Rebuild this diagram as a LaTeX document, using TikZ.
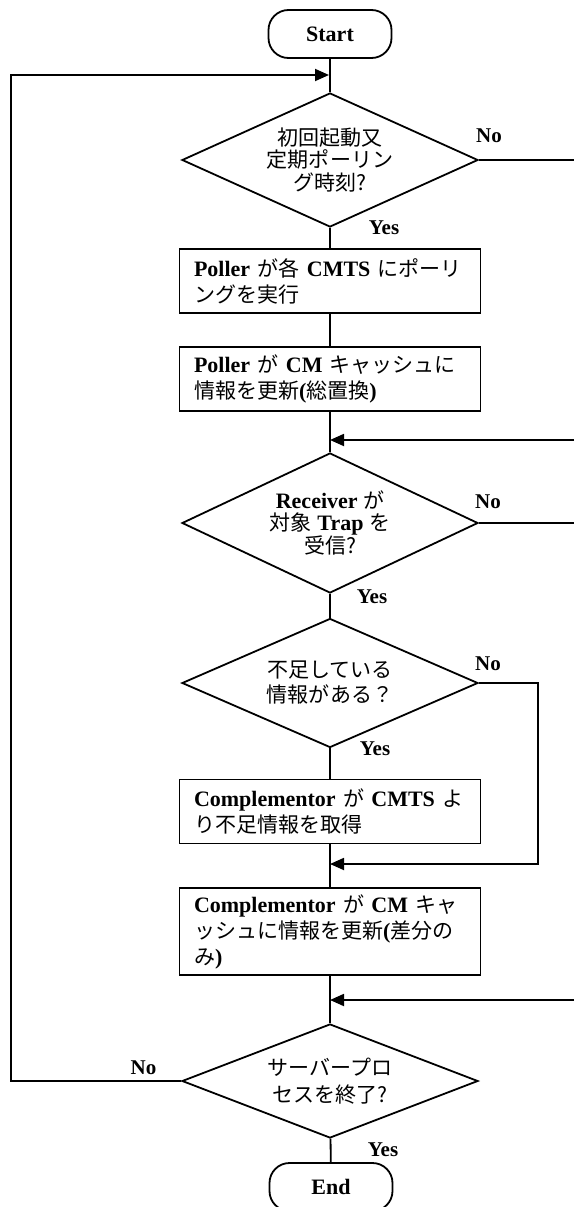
\documentclass[tikz,border=0pt]{standalone}
\usepackage{fontspec}
\setmainfont{Liberation Serif}
\newfontfamily\jpfont[Scale=0.955]{Noto Sans CJK JP}
\usetikzlibrary{shapes.geometric,arrows.meta}
\newcommand\J[1]{{\jpfont\mdseries #1}}
\tikzset{
  conn/.style={line width=1.8pt},
  arr/.style={line width=1.8pt,-{Triangle[length=14pt,width=12pt]}},
  proc/.style={draw,line width=1.8pt,rectangle,text width=272pt,align=left,
    inner xsep=14.5pt,inner ysep=0pt,minimum height=64pt,
    font=\fontsize{22}{26}\selectfont\bfseries},
  decision/.style={draw,line width=1.8pt,diamond,aspect=2.2,inner sep=0pt,
    minimum width=296pt,minimum height=134pt,align=center,
    font=\fontsize{22}{22.5}\selectfont\bfseries},
  term/.style={draw,line width=1.8pt,rounded corners=20pt,minimum width=123pt,
    minimum height=48pt,font=\fontsize{22}{26}\selectfont\bfseries},
  lbl/.style={font=\fontsize{21}{24}\selectfont\bfseries,inner sep=0pt},
}
\begin{document}
\begin{tikzpicture}[x=1pt,y=-1pt]
\useasboundingbox (0,0) rectangle (574,1207);
% nodes
\node[term] (start) at (330,34) {Start};
\node[decision] (d1) at (330,160) {\J{初回起動又}\\\J{定期ポーリン}\\\J{グ時刻?}};
\node[proc] (b1) at (330,281) {Poller \J{が各} CMTS \J{にポーリ}\\\J{ングを実行}};
\node[proc] (b2) at (330,379) {Poller \J{が} CM \J{キャッシュに}\\\J{情報を更新}(\J{総置換})};
\node[decision,minimum height=140pt,font=\fontsize{22}{22}\selectfont\bfseries] (d2) at (330,523) {Receiver \J{が}\\\J{対象} Trap \J{を}\\\J{受信?}};
\node[decision,minimum height=129pt,font=\fontsize{22}{25}\selectfont\bfseries] (d3) at (330,683) {\J{不足している}\\\J{情報がある？}};
\node[proc] (b3) at (330,811.5) {Complementor \J{が} CMTS \J{よ}\\\J{り不足情報を取得}};
\node[proc,minimum height=87pt] (b4) at (330,931.5) {Complementor \J{が} CM \J{キャ}\\\J{ッシュに情報を更新}(\J{差分の}\\\J{み})};
\node[decision,minimum height=114pt,font=\fontsize{22}{27}\selectfont\bfseries] (d4) at (330,1081) {\J{サーバープロ}\\\J{セスを終了?}};
\node[term] (end) at (331,1187) {End};
% coordinates
\coordinate (m0) at (329,75);
\coordinate (lc) at (11,75);
\coordinate (r1) at (574,160);
\coordinate (r2a) at (574,440);
\coordinate (m2a) at (330,440);
\coordinate (r2) at (574,523);
\coordinate (c3) at (538,864);
\coordinate (m3) at (330,864);
\coordinate (r4) at (574,1000);
\coordinate (m4) at (330,1000);
% connectors
\draw[conn] (start) -- (d1);
\draw[conn] (d1) -- (b1);
\draw[conn] (b1) -- (b2);
\draw[conn] (b2) -- (d2);
\draw[conn] (d2) -- (d3);
\draw[conn] (d3) -- (b3);
\draw[conn] (b3) -- (b4);
\draw[conn] (b4) -- (d4);
\draw[conn] (d4) -- (end);
\draw[conn] (d1.east) -- (r1);
\draw[conn] (d2.east) -- (r2);
\draw[arr] (r2a) -- (m2a);
\draw[arr] (d3.east) -| (c3) -- (m3);
\draw[arr] (r4) -- (m4);
\draw[arr] (d4.west) -| (lc) -- (m0);
% labels
\node[lbl] (n1) at (489,136) {No};
\node[lbl] (y1) at (384,228) {Yes};
\node[lbl] (n2) at (488,502) {No};
\node[lbl] (y2) at (372,597) {Yes};
\node[lbl] (n3) at (488,664) {No};
\node[lbl] (y3) at (375,749) {Yes};
\node[lbl] (n4) at (143.5,1068) {No};
\node[lbl] (y4) at (383,1150) {Yes};
\end{tikzpicture}
\end{document}
